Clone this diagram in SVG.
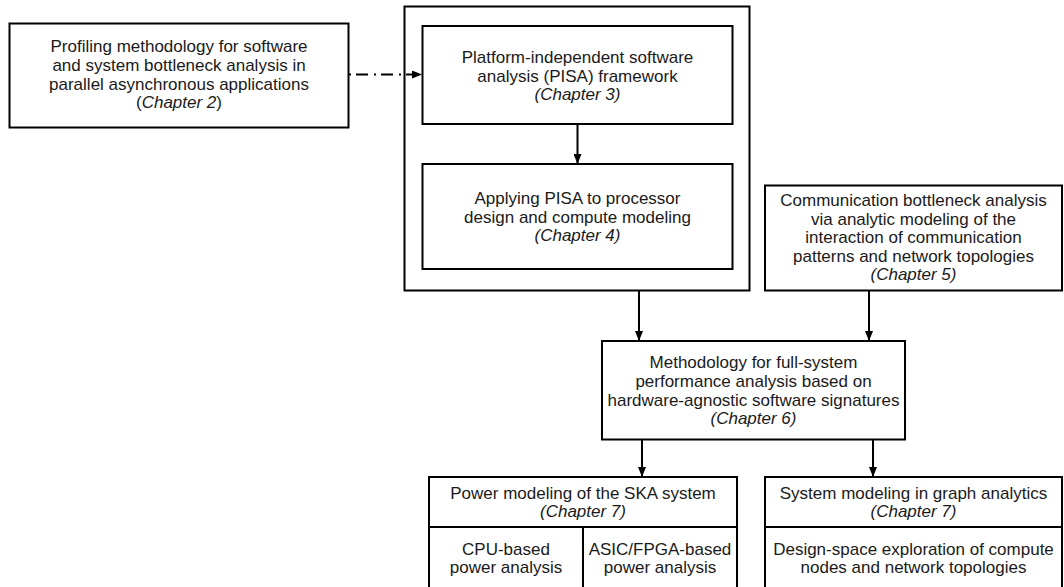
<svg xmlns="http://www.w3.org/2000/svg" width="1064" height="587" viewBox="0 0 1064 587">
<style>
.box{fill:#fff;stroke:#000;stroke-width:2}
.ln{fill:none;stroke:#000;stroke-width:2}
text{font-family:"Liberation Sans",Arial,sans-serif;font-size:17px;fill:#1a1a1a;text-anchor:middle}
.i{font-style:italic}
</style>
<defs>
<marker id="ah" markerWidth="10" markerHeight="8" refX="9" refY="4" orient="auto" markerUnits="userSpaceOnUse">
<path d="M0,0 L10,4 L0,8 z" fill="#000"/>
</marker>
</defs>
<rect width="1064" height="587" fill="#fff"/>
<g id="ch2">
<rect class="box" x="9.5" y="23.5" width="339" height="104"/>
<text x="179" y="52">Profiling methodology for software</text>
<text x="179" y="71">and system bottleneck analysis in</text>
<text x="179" y="89.5">parallel asynchronous applications</text>
<text x="179" y="108.3">(<tspan class="i">Chapter 2</tspan>)</text>
</g>
<g id="pisa-group">
<rect class="box" x="404.5" y="6.5" width="345" height="284"/>
</g>
<g id="ch3">
<rect class="box" x="422.5" y="26" width="310" height="98"/>
<text x="577.5" y="62.7">Platform-independent software</text>
<text x="577.5" y="81.7">analysis (PISA) framework</text>
<text x="577.5" y="100" class="i">(Chapter 3)</text>
</g>
<g id="ch4">
<rect class="box" x="422.5" y="164" width="310" height="105"/>
<text x="577.5" y="204">Applying PISA to processor</text>
<text x="577.5" y="222.7">design and compute modeling</text>
<text x="577.5" y="240.7" class="i">(Chapter 4)</text>
</g>
<g id="ch5">
<rect class="box" x="765" y="185.5" width="297" height="105"/>
<text x="913.5" y="206">Communication bottleneck analysis</text>
<text x="913.5" y="224.5">via analytic modeling of the</text>
<text x="913.5" y="243.3">interaction of communication</text>
<text x="913.5" y="261.7">patterns and network topologies</text>
<text x="913.5" y="280" class="i">(Chapter 5)</text>
</g>
<g id="ch6">
<rect class="box" x="602" y="341" width="303" height="98.5"/>
<text x="753.5" y="368.3">Methodology for full-system</text>
<text x="753.5" y="386.8">performance analysis based on</text>
<text x="753.5" y="405.5">hardware-agnostic software signatures</text>
<text x="753.5" y="424" class="i">(Chapter 6)</text>
</g>
<g id="ch7-power">
<rect class="box" x="429" y="477" width="308" height="115"/>
<line class="ln" x1="429" y1="527" x2="737" y2="527"/>
<line class="ln" x1="583" y1="527" x2="583" y2="592"/>
<text x="583" y="498.5">Power modeling of the SKA system</text>
<text x="583" y="517" class="i">(Chapter 7)</text>
<text x="506" y="554.5">CPU-based</text>
<text x="506" y="573">power analysis</text>
<text x="660" y="554.5">ASIC/FPGA-based</text>
<text x="660" y="573">power analysis</text>
</g>
<g id="ch7-graph">
<rect class="box" x="765" y="477" width="297" height="115"/>
<line class="ln" x1="765" y1="527" x2="1062" y2="527"/>
<text x="913.5" y="498.5">System modeling in graph analytics</text>
<text x="913.5" y="517" class="i">(Chapter 7)</text>
<text x="913.5" y="554.5">Design-space exploration of compute</text>
<text x="913.5" y="573">nodes and network topologies</text>
</g>
<g id="connectors">
<line class="ln" x1="349" y1="74.5" x2="421" y2="74.5" stroke-dasharray="2 5 12 6" marker-end="url(#ah)"/>
<line class="ln" x1="577.5" y1="124" x2="577.5" y2="163" marker-end="url(#ah)"/>
<line class="ln" x1="639" y1="291" x2="639" y2="340" marker-end="url(#ah)"/>
<line class="ln" x1="869" y1="291" x2="869" y2="340" marker-end="url(#ah)"/>
<line class="ln" x1="642" y1="440" x2="642" y2="476" marker-end="url(#ah)"/>
<line class="ln" x1="873" y1="440" x2="873" y2="476" marker-end="url(#ah)"/>
</g>
</svg>
